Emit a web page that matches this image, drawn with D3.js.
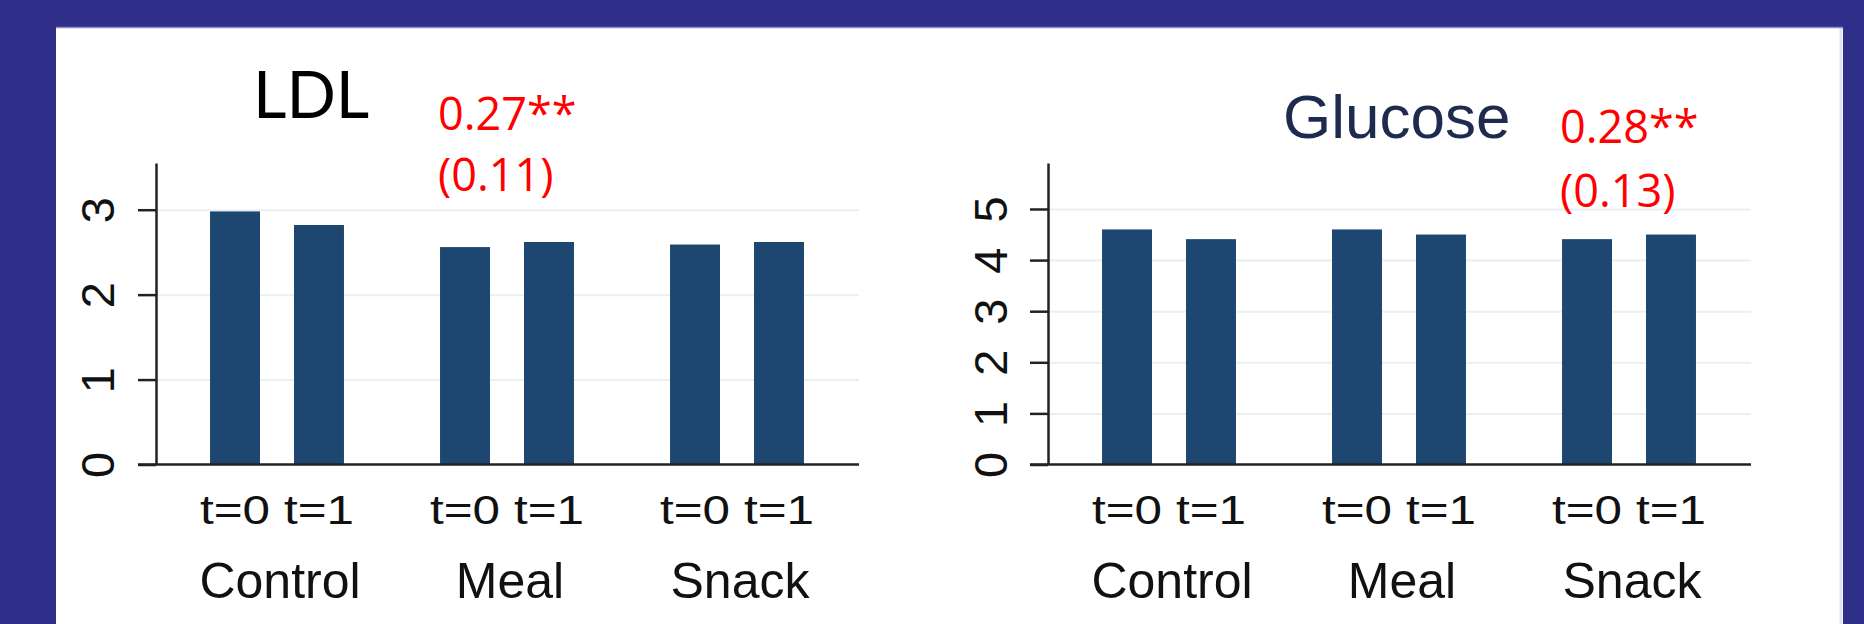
<!DOCTYPE html>
<html>
<head>
<meta charset="utf-8">
<script src="https://cdn.jsdelivr.net/npm/d3@7"></script>
<style>
  body { margin: 0; background: #2f2e88; }
  svg { display: block; }
  .tick-label { font-family: "Liberation Sans", Arial, sans-serif; fill: #111; }
  .grid line { stroke: #e9f0f3; stroke-width: 2; }
  .grid path { display: none; }
</style>
</head>
<body>
<div id="chart"></div>
<script>
// categories
const groups = ["Control", "Meal", "Snack"];
const times = ["t=0", "t=1"];

// values
const ldlT0 = [2.98, 2.56, 2.59];
const ldlT1 = [2.82, 2.62, 2.62];
const glucoseT0 = [4.6, 4.6, 4.41];
const glucoseT1 = [4.41, 4.5, 4.5];

// tick labels
const ldlTicks = [0, 1, 2, 3];
const glucoseTicks = [0, 1, 2, 3, 4, 5];

const W = 1864, H = 624;
const plotW = 703;
const y0px = 464.5, yTop = 163;

const svg = d3.select("#chart")
  .append("svg")
    .attr("width", W)
    .attr("height", H)
    .attr("viewBox", `0 0 ${W} ${H}`);

// slide background and white panel
svg.append("rect")
  .attr("width", W).attr("height", H)
  .attr("fill", "#2f2e88");
svg.append("rect")
  .attr("x", 56).attr("y", 27)
  .attr("width", 1787).attr("height", H - 27)
  .attr("fill", "#fff");
svg.append("line")
  .attr("x1", 1841).attr("x2", 1841)
  .attr("y1", 27).attr("y2", H)
  .attr("stroke", "#dfe5ea").attr("stroke-width", 3);
svg.append("line")
  .attr("x1", 56).attr("x2", 1843)
  .attr("y1", 27.5).attr("y2", 27.5)
  .attr("stroke", "#8c8bc4").attr("stroke-width", 1.5);

function drawPanel(cfg) {
  const g = svg.append("g")
    .attr("transform", `translate(${cfg.left}, 0)`);

  const x0 = d3.scaleBand()
    .domain(groups)
    .range([6, 696]);
  const x1 = d3.scaleBand()
    .domain(times)
    .range([0, x0.bandwidth()])
    .paddingInner(0.405)
    .paddingOuter(0.572);
  const y = d3.scaleLinear()
    .domain([0, cfg.yMax])
    .range([y0px, yTop]);

  // horizontal grid
  g.append("g")
    .attr("class", "grid")
    .call(d3.axisLeft(y)
      .tickValues(cfg.ticks.slice(1))
      .tickSize(-plotW)
      .tickFormat(""));

  const rows = [];
  groups.forEach((grp, i) => {
    rows.push({group: grp, time: times[0], value: cfg.t0[i]});
    rows.push({group: grp, time: times[1], value: cfg.t1[i]});
  });

  g.selectAll("rect.bar")
    .data(rows)
    .join("rect")
      .attr("class", "bar")
      .attr("x", d => x0(d.group) + x1(d.time))
      .attr("y", d => y(d.value))
      .attr("width", x1.bandwidth())
      .attr("height", d => y0px - y(d.value))
      .attr("fill", "#1d4770");

  // y axis
  const yAxis = g.append("g")
    .call(d3.axisLeft(y)
      .tickValues(cfg.ticks)
      .tickFormat(d3.format("d"))
      .tickSize(18)
      .tickSizeOuter(0));
  yAxis.select(".domain").attr("stroke", "#222").attr("stroke-width", 2.5);
  yAxis.selectAll(".tick line").attr("stroke", "#222").attr("stroke-width", 2.5);
  yAxis.selectAll(".tick text")
    .attr("class", "tick-label")
    .attr("transform", "rotate(-90)")
    .attr("text-anchor", "middle")
    .attr("x", 0)
    .attr("y", cfg.labelOff)
    .attr("dy", 0)
    .style("font-size", "47px");

  // x baseline
  g.append("line")
    .attr("x1", -18).attr("x2", plotW)
    .attr("y1", y0px).attr("y2", y0px)
    .attr("stroke", "#222").attr("stroke-width", 2.5);

  // time labels under bars
  g.selectAll("text.time")
    .data(rows)
    .join("text")
      .attr("class", "tick-label time")
      .attr("x", d => x0(d.group) + x1(d.time) + x1.bandwidth() / 2)
      .attr("y", 524)
      .attr("text-anchor", "middle")
      .attr("textLength", 70)
      .attr("lengthAdjust", "spacingAndGlyphs")
      .style("font-size", "41px")
      .text(d => d.time);

  // group labels
  g.selectAll("text.grp")
    .data(groups)
    .join("text")
      .attr("class", "tick-label grp")
      .attr("x", d => x0(d) + x0.bandwidth() / 2 + 3)
      .attr("y", 598)
      .attr("text-anchor", "middle")
      .style("font-size", "50px")
      .text(d => d);

  // title
  g.append("text")
    .attr("x", cfg.titleX)
    .attr("y", cfg.titleY)
    .attr("text-anchor", "start")
    .style("font-family", cfg.titleFont)
    .style("font-size", cfg.titleSize)
    .attr("fill", cfg.titleColor)
    .text(cfg.title);

  // red estimate annotation above the marked group
  const ax = x0(cfg.noteGroup) + x1(times[0]) - 2;
  g.append("text")
    .attr("x", ax)
    .attr("y", cfg.noteY[0])
    .style("font-family", "'Open Sans', sans-serif")
    .style("font-size", "45px")
    .attr("fill", "#ff0000")
    .text(cfg.note[0]);
  g.append("text")
    .attr("x", ax)
    .attr("y", cfg.noteY[1])
    .style("font-family", "'Open Sans', sans-serif")
    .style("font-size", "45px")
    .attr("fill", "#ff0000")
    .text(cfg.note[1]);
}

drawPanel({
  left: 156, yMax: 3.55, ticks: ldlTicks, t0: ldlT0, t1: ldlT1,
  labelOff: -42,
  title: "LDL", titleX: 97, titleY: 118, titleSize: "65px",
  titleFont: "Lato, sans-serif", titleColor: "#000",
  noteGroup: "Meal", note: ["0.27**", "(0.11)"], noteY: [130, 191]
});

drawPanel({
  left: 1048, yMax: 5.9, ticks: glucoseTicks, t0: glucoseT0, t1: glucoseT1,
  labelOff: -41,
  title: "Glucose", titleX: 235, titleY: 138, titleSize: "62px",
  titleFont: "'Liberation Sans', Arial, sans-serif", titleColor: "#1f2a4f",
  noteGroup: "Snack", note: ["0.28**", "(0.13)"], noteY: [143, 207]
});
</script>
</body>
</html>
